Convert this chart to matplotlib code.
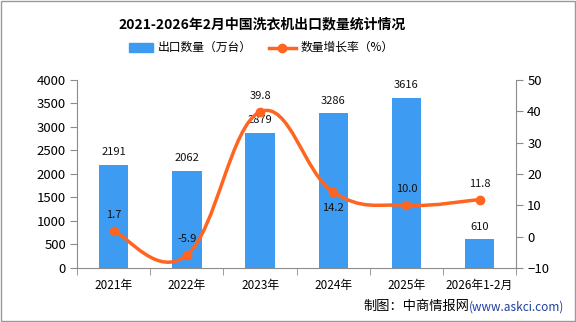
import numpy as np
import matplotlib.pyplot as plt
from matplotlib.path import Path
from matplotlib.patches import PathPatch, Rectangle

plt.rcParams['font.family'] = ['Noto Sans CJK SC', 'DejaVu Sans']

years = ["2021年", "2022年", "2023年", "2024年", "2025年", "2026年1-2月"]
export_qty = [2191, 2062, 2879, 3286, 3616, 610]
growth = [1.7, -5.9, 39.8, 14.2, 10.0, 11.8]
growth_label_below = [False, False, False, True, False, False]

bar_color = "#3D9CF2"
line_color = "#FF6520"
axis_color = "#8C8C8C"

fig = plt.figure(figsize=(5.76, 3.22), dpi=100)
ax = fig.add_axes([0.134, 0.168, 0.762, 0.584])
ax2 = ax.twinx()

x = np.arange(len(years))
ax.bar(x, export_qty, width=0.4, color=bar_color, zorder=2)
for xi, v in zip(x, export_qty):
    ax.text(xi, v + 160, str(v), ha="center", va="bottom", fontsize=8, color="#111111")

ax.set_xlim(-0.5, len(years) - 0.5)
ax.set_ylim(0, 4000)
ax.set_yticks(range(0, 4001, 500))
ax2.set_ylim(-10, 50)
ax2.set_yticks(range(-10, 51, 10))

# smooth line through the growth points (cubic bezier, catmull-rom style)
pts = np.column_stack([x, growth]).astype(float)
verts = [tuple(pts[0])]
codes = [Path.MOVETO]
k = 0.2
for i in range(len(pts) - 1):
    p0 = pts[i - 1] if i > 0 else pts[i]
    p1 = pts[i]
    p2 = pts[i + 1]
    p3 = pts[i + 2] if i + 2 < len(pts) else pts[i + 1]
    c1 = p1 + (p2 - p0) * k
    c2 = p2 - (p3 - p1) * k
    verts += [tuple(c1), tuple(c2), tuple(p2)]
    codes += [Path.CURVE4] * 3
ax2.add_patch(PathPatch(Path(verts, codes), facecolor="none", edgecolor=line_color,
                        lw=2.5, zorder=3, capstyle="round"))
ax2.plot(x, growth, "o", color=line_color, ms=6, zorder=4)
for xi, v, below in zip(x, growth, growth_label_below):
    if below:
        ax2.text(xi, v - 3.5, f"{v:.1f}", ha="center", va="top", fontsize=8, color="#111111")
    else:
        ax2.text(xi, v + 3.5, f"{v:.1f}", ha="center", va="bottom", fontsize=8, color="#111111")

ax.set_xticks(x)
ax.set_xticklabels(years)
ax.set_xticks(np.arange(-0.5, len(years), 1), minor=True)
ax.tick_params(axis="x", which="major", length=0, pad=8, labelsize=8.5)
ax.tick_params(axis="x", which="minor", length=5, direction="out", color=axis_color)
ax.tick_params(axis="y", length=5, color=axis_color, labelsize=9.5, pad=3)
ax2.tick_params(axis="y", length=5, color=axis_color, labelsize=9.5, pad=3)

for a in (ax, ax2):
    a.spines["top"].set_visible(False)
    for s in ("left", "right", "bottom"):
        a.spines[s].set_color(axis_color)
ax.spines["right"].set_visible(False)
ax2.spines["left"].set_visible(False)
ax2.spines["bottom"].set_visible(False)

fig.text(0.455, 0.925, "2021-2026年2月中国洗衣机出口数量统计情况", ha="center", va="center",
         fontsize=10, fontweight="bold")

# legend
fig.patches.append(Rectangle((0.224, 0.838), 0.042, 0.028, transform=fig.transFigure,
                             color=bar_color))
fig.text(0.274, 0.852, "出口数量（万台）", ha="left", va="center", fontsize=8.5)
fig.lines.append(plt.Line2D([0.467, 0.514], [0.852, 0.852], transform=fig.transFigure,
                            color=line_color, lw=2.5))
fig.lines.append(plt.Line2D([0.49], [0.852], transform=fig.transFigure, marker="o",
                            color=line_color, ms=6))
fig.text(0.521, 0.852, "数量增长率（%）", ha="left", va="center", fontsize=8.5)

# source
url = fig.text(0.98, 0.047, "(www.askci.com)", ha="right", va="center", fontsize=8.5,
               color="#1F3F9F")
fig.canvas.draw()
x0 = url.get_window_extent().x0 / fig.bbox.width
fig.text(x0, 0.047, "制图：中商情报网", ha="right", va="center", fontsize=9.5)

fig.patches.append(Rectangle((0.001, 0.002), 0.997, 0.995, transform=fig.transFigure,
                             fill=False, edgecolor="#999999", lw=1))

fig.savefig("out.png", dpi=100)
